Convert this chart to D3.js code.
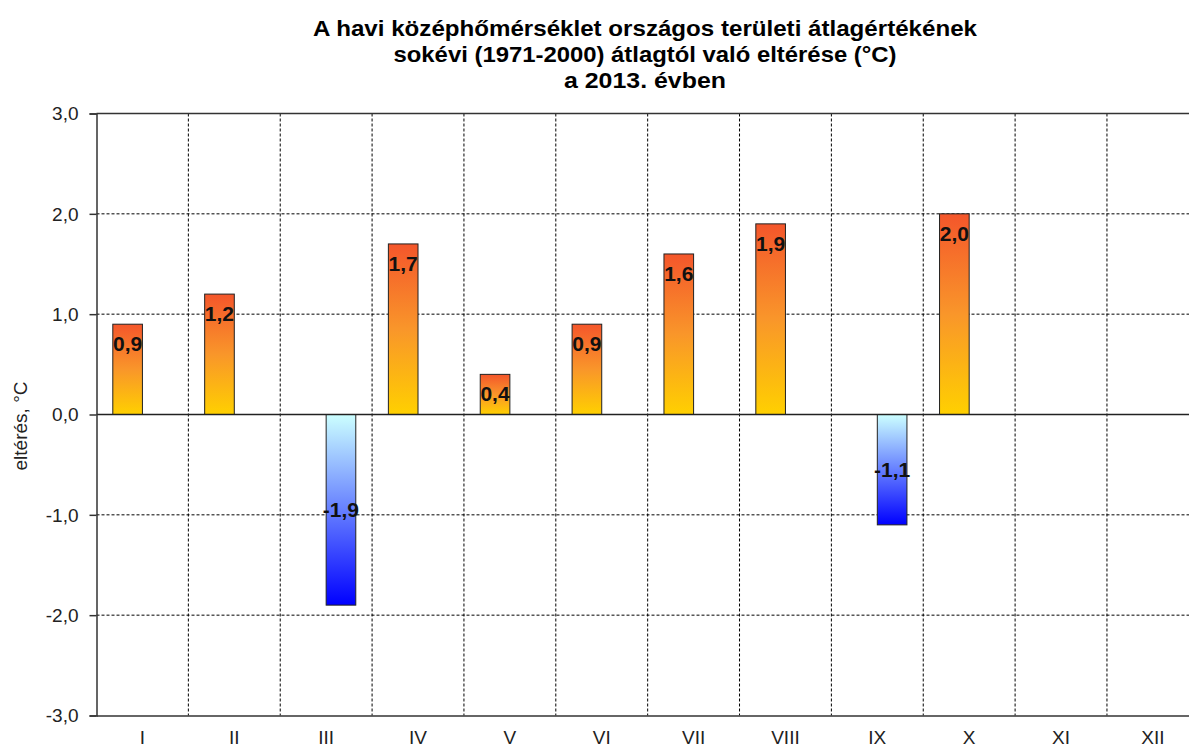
<!DOCTYPE html>
<html><head><meta charset="utf-8">
<script src="https://cdn.jsdelivr.net/npm/d3@7"></script>
<style>body{margin:0;background:#fff;overflow:hidden}</style>
</head><body>
<svg id="c" width="1189" height="747"></svg>
<script>
const months = ["I","II","III","IV","V","VI","VII","VIII","IX","X","XI","XII"];
const deviations = [0.9, 1.2, -1.9, 1.7, 0.4, 0.9, 1.6, 1.9, -1.1, 2.0, null, null];
const yTicks = [-3, -2, -1, 0, 1, 2, 3];
const titleLines = [
  "A havi középhőmérséklet országos területi átlagértékének",
  "sokévi (1971-2000) átlagtól való eltérése (°C)",
  "a 2013. évben"
];
const yTitle = "eltérés, °C";

const svg = d3.select("#c");
const font = "'Liberation Sans', Arial, sans-serif";
const plotLeft = 96.5, plotTop = 113.5, plotBottom = 715.5, bandStep = 91.86;
const plotRight = plotLeft + bandStep * months.length;

const x = d3.scaleBand().domain(months).range([plotLeft, plotRight]).paddingInner(0).paddingOuter(0);
// two series side by side: warm (positive) and cold (negative) deviations
const xs = d3.scaleBand().domain(["pos", "neg"]).range([0, x.bandwidth()]).paddingInner(0).paddingOuter(0.55);
const y = d3.scaleLinear().domain([-3, 3]).range([plotBottom, plotTop]);
const fmt = v => d3.format(".1f")(v).replace(".", ",").replace("−", "-");

// gradients
const defs = svg.append("defs");
const gp = defs.append("linearGradient").attr("id", "gPos").attr("x1", 0).attr("y1", 0).attr("x2", 0).attr("y2", 1);
gp.append("stop").attr("offset", "0%").attr("stop-color", "#F4562B");
gp.append("stop").attr("offset", "50%").attr("stop-color", "#F9962A");
gp.append("stop").attr("offset", "100%").attr("stop-color", "#FFD000");
const gn = defs.append("linearGradient").attr("id", "gNeg").attr("x1", 0).attr("y1", 0).attr("x2", 0).attr("y2", 1);
gn.append("stop").attr("offset", "0%").attr("stop-color", "#CCFFFF");
gn.append("stop").attr("offset", "100%").attr("stop-color", "#0000FF");

// title
const tt = svg.append("g");
const titleWidths = [664, 503, 162];
const titleBase = [36, 62, 88];
titleLines.forEach((t, i) => {
  tt.append("text").attr("x", 645).attr("y", titleBase[i])
    .attr("text-anchor", "middle").attr("font-family", font).attr("font-weight", "bold")
    .attr("font-size", 22).attr("fill", "#000")
    .attr("textLength", titleWidths[i]).attr("lengthAdjust", "spacingAndGlyphs")
    .text(t);
});

// horizontal gridlines
svg.append("g").selectAll("line").data(yTicks.filter(v => v !== 0 && v !== -3 && v !== 3))
  .join("line").attr("x1", plotLeft).attr("x2", plotRight).attr("y1", d => y(d)).attr("y2", d => y(d))
  .attr("stroke", "#000").attr("stroke-width", 1).attr("stroke-dasharray", "3,2");
// vertical gridlines
svg.append("g").selectAll("line").data(months.slice(1))
  .join("line").attr("x1", d => x(d)).attr("x2", d => x(d)).attr("y1", plotTop).attr("y2", plotBottom)
  .attr("stroke", "#000").attr("stroke-width", 1).attr("stroke-dasharray", "3,2");
// top border
svg.append("line").attr("x1", plotLeft).attr("x2", plotRight).attr("y1", y(3)).attr("y2", y(3))
  .attr("stroke", "#333").attr("stroke-width", 1.5);

// bars
const data = months.map((m, i) => ({m, v: deviations[i]})).filter(d => d.v !== null);
const barX = d => x(d.m) + xs(d.v >= 0 ? "pos" : "neg");
svg.append("g").selectAll("rect").data(data).join("rect")
  .attr("x", barX)
  .attr("width", xs.bandwidth())
  .attr("y", d => y(Math.max(0, d.v)))
  .attr("height", d => Math.abs(y(d.v) - y(0)))
  .attr("fill", d => d.v >= 0 ? "url(#gPos)" : "url(#gNeg)")
  .attr("stroke", "#222").attr("stroke-width", 1);

// zero line
svg.append("line").attr("x1", plotLeft).attr("x2", plotRight).attr("y1", y(0)).attr("y2", y(0))
  .attr("stroke", "#222").attr("stroke-width", 1.5);

// y axis
const yAxis = d3.axisLeft(y).tickValues(yTicks).tickSize(7).tickPadding(11).tickFormat(fmt);
const gy = svg.append("g").attr("transform", `translate(${plotLeft},0)`).call(yAxis);
gy.select(".domain").attr("stroke", "#333").attr("stroke-width", 1.5);
gy.selectAll(".tick line").attr("stroke", "#333").attr("stroke-width", 1.5);
gy.selectAll(".tick text").attr("font-family", font).attr("font-size", 19).attr("fill", "#222").attr("dy", "0.34em");

// x axis
const xAxis = d3.axisBottom(x).tickSize(0).tickPadding(15);
const gx = svg.append("g").attr("transform", `translate(0,${plotBottom})`).call(xAxis);
gx.select(".domain").attr("stroke", "#333").attr("stroke-width", 1.5);
gx.selectAll(".tick text").attr("font-family", font).attr("font-size", 19).attr("fill", "#222");

// y title
svg.append("text").attr("transform", `translate(27,426) rotate(-90)`)
  .attr("text-anchor", "middle").attr("font-family", font).attr("font-size", 19).attr("fill", "#222")
  .text(yTitle);

// data labels
svg.append("g").selectAll("text").data(data).join("text")
  .attr("x", d => barX(d) + xs.bandwidth() / 2)
  .attr("y", d => d.v >= 0 ? y(d.v) + 19.5 : (y(0) + y(d.v)) / 2)
  .attr("dy", "0.36em")
  .attr("text-anchor", "middle").attr("font-family", font).attr("font-weight", "bold")
  .attr("font-size", 21).attr("fill", "#111")
  .text(d => fmt(d.v));
</script>
</body></html>
